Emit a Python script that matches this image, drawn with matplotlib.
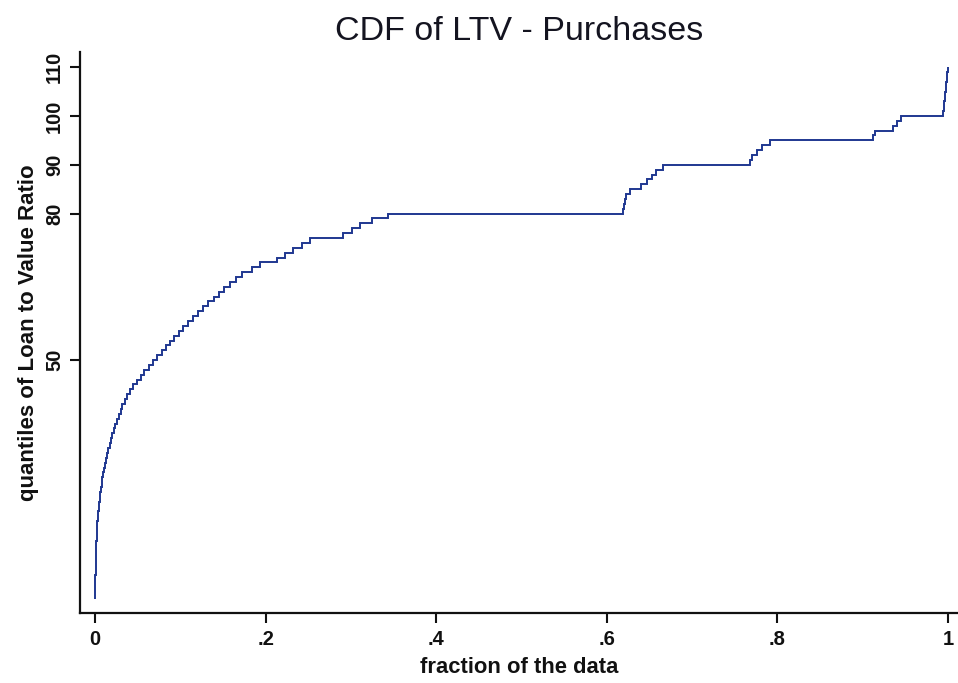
import matplotlib
matplotlib.use("Agg")
import matplotlib.pyplot as plt

plt.rcParams["font.family"] = ["Liberation Sans", "DejaVu Sans"]

# Quantile function of loan-to-value ratio: each integer LTV level and the
# fraction of the data at which that level ends.
ltv_levels = list(range(1, 81)) + [81, 82, 83, 84, 85, 86, 87, 88, 89, 90,
                                   91, 92, 93, 94, 95, 96, 97, 98, 99, 100,
                                   101, 102, 103, 104, 105, 106, 107, 108, 109, 110]
level_end_fraction = [
    # 1-10
    0.0001, 0.0002, 0.0003, 0.0004, 0.0005, 0.0006, 0.0008, 0.0009, 0.0011, 0.0013,
    # 11-20
    0.0015, 0.0017, 0.0020, 0.0022, 0.0025, 0.0029, 0.0034, 0.0038, 0.0043, 0.0049,
    # 21-30
    0.0055, 0.0062, 0.0069, 0.0077, 0.0085, 0.0095, 0.0105, 0.0118, 0.0130, 0.0142,
    # 31-40
    0.0155, 0.0170, 0.0185, 0.0200, 0.0222, 0.0240, 0.0260, 0.0280, 0.0300, 0.0322,
    # 41-50
    0.0350, 0.0380, 0.0415, 0.0450, 0.0490, 0.0535, 0.0580, 0.0630, 0.0680, 0.0730,
    # 51-60
    0.0780, 0.0830, 0.0880, 0.0930, 0.0980, 0.1030, 0.1090, 0.1150, 0.1210, 0.1270,
    # 61-70
    0.1330, 0.1390, 0.1450, 0.1510, 0.1580, 0.1650, 0.1720, 0.1837, 0.1930, 0.2130,
    # 71-80
    0.2227, 0.2325, 0.2423, 0.2520, 0.2910, 0.3010, 0.3107, 0.3244, 0.3439, 0.6186,
    # 81-90
    0.6200, 0.6212, 0.6225, 0.6272, 0.6397, 0.6468, 0.6526, 0.6577, 0.6663, 0.7679,
    # 91-100
    0.7698, 0.7757, 0.7816, 0.7913, 0.9125, 0.9144, 0.9359, 0.9398, 0.9445, 0.9937,
    # 101-110
    0.9950, 0.9958, 0.9965, 0.9970, 0.9975, 0.9980, 0.9985, 0.9990, 0.9995, 1.0000,
]

x_ticks = [0, 0.2, 0.4, 0.6, 0.8, 1.0]
x_tick_labels = ["0", ".2", ".4", ".6", ".8", "1"]
y_ticks = [50, 80, 90, 100, 110]
y_tick_labels = ["50", "80", "90", "100", "110"]

W, H = 958, 683
fig = plt.figure(figsize=(W / 100, H / 100), dpi=100)
ax = fig.add_axes([80 / W, 1 - 613 / H, 1 - 80 / W, (613 - 52) / H])

edges = [0.0] + level_end_fraction
ax.stairs(ltv_levels, edges, baseline=None, color="#1f3790", linewidth=1.4)

ax.set_xlim(-0.0176, 1.0117)
ax.set_ylim(-1.8, 113.1)

ax.set_xticks(x_ticks)
ax.set_xticklabels(x_tick_labels)
ax.set_yticks(y_ticks)
ax.set_yticklabels(y_tick_labels)

for side in ("top", "right"):
    ax.spines[side].set_visible(False)
for side in ("left", "bottom"):
    ax.spines[side].set_linewidth(1.6)
    ax.spines[side].set_color("#111111")

ax.tick_params(axis="both", length=7.5, width=1.5, color="#111111",
               labelsize=14.5, labelcolor="#111111")
ax.tick_params(axis="x", pad=5)
ax.tick_params(axis="y", pad=4, labelrotation=90)
for lbl in ax.get_xticklabels() + ax.get_yticklabels():
    lbl.set_fontweight("bold")
for lbl in ax.get_yticklabels():
    lbl.set_verticalalignment("center")

ax.set_title("CDF of LTV - Purchases", fontsize=24.5, color="#141420", pad=8.6)
ax.set_xlabel("fraction of the data", fontsize=15.8, fontweight="bold",
              color="#111111", labelpad=5.5)
ax.set_ylabel("quantiles of Loan to Value Ratio", fontsize=16, fontweight="bold",
              color="#111111", labelpad=4)

fig.savefig("out.png", dpi=100)
